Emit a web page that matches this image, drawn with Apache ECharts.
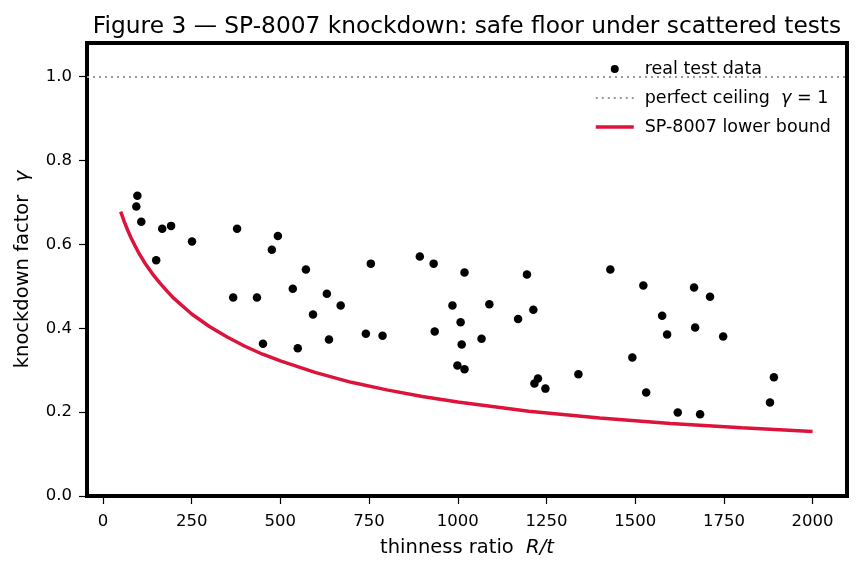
<!DOCTYPE html>
<html>
<head>
<meta charset="utf-8">
<script src="https://cdn.jsdelivr.net/npm/echarts@6/dist/echarts.min.js"></script>
<style>
  html, body { margin: 0; padding: 0; background: #fff; }
  #chart { width: 859px; height: 570px; }
</style>
</head>
<body>
<div id="chart"></div>
<script>
// test points
var thinness = [94, 97, 108, 150, 167, 192, 251, 367, 378, 434, 451, 476, 493, 535, 549, 572, 592, 631, 637, 670,
    741, 755, 788, 893, 932, 935, 985, 999, 1008, 1011, 1019, 1019, 1067, 1089, 1170, 1195, 1213, 1216, 1226, 1247,
    1340, 1430, 1492, 1523, 1531, 1576, 1590, 1620, 1666, 1669, 1683, 1711, 1748, 1880, 1891];
var knockdown = [0.690, 0.716, 0.654, 0.562, 0.637, 0.644, 0.607, 0.473, 0.637, 0.473, 0.363, 0.587, 0.620, 0.494, 0.352, 0.540, 0.433, 0.482, 0.373, 0.454,
    0.387, 0.554, 0.382, 0.571, 0.554, 0.392, 0.454, 0.311, 0.414, 0.361, 0.533, 0.302, 0.375, 0.457, 0.422, 0.528, 0.444, 0.268, 0.280, 0.256,
    0.290, 0.540, 0.330, 0.502, 0.247, 0.430, 0.385, 0.199, 0.497, 0.402, 0.195, 0.475, 0.380, 0.223, 0.283];

// lower bound curve, read at these R/t values
var boundX = [50, 60, 70, 80, 90, 100, 120, 140, 160, 180, 200, 250, 300, 350, 400, 450, 500, 600, 700, 800, 900, 1000, 1200, 1400, 1600, 1800, 2000];
var boundY = [0.678, 0.654, 0.633, 0.614, 0.597, 0.581, 0.553, 0.529, 0.508, 0.489, 0.471, 0.434, 0.404, 0.379, 0.357, 0.338, 0.322, 0.294, 0.271, 0.253, 0.237, 0.224, 0.202, 0.186, 0.173, 0.163, 0.154];

var ceiling = 1;
var xTicks = [0, 250, 500, 750, 1000, 1250, 1500, 1750, 2000];
var yTicks = [0, 0.2, 0.4, 0.6, 0.8, 1.0];

var font = "'DejaVu Sans', sans-serif";

function pairs(xs, ys) {
    var out = [];
    for (var i = 0; i < xs.length; i++) {
        out.push([xs[i], ys[i]]);
    }
    return out;
}

var chart = echarts.init(document.getElementById('chart'));

var option = {
    backgroundColor: '#fff',
    animation: false,
    textStyle: { fontFamily: font },
    title: {
        text: 'Figure 3 — SP-8007 knockdown: safe floor under scattered tests',
        left: 462,
        top: 10,
        textAlign: 'center',
        textStyle: { fontFamily: font, fontSize: 23.3, fontWeight: 'normal', color: '#000' }
    },
    grid: {
        left: 87, right: 12, top: 43, bottom: 74,
        show: true, borderColor: '#000', borderWidth: 4, backgroundColor: 'transparent'
    },
    legend: {
        orient: 'vertical',
        left: 589,
        top: 55,
        itemWidth: 38,
        itemHeight: 8,
        itemGap: 11,
        textStyle: {
            fontFamily: font, fontSize: 17.5, color: '#000', padding: [0, 0, 0, 6],
            rich: { i: { fontStyle: 'italic', fontSize: 17.5, fontFamily: font, color: '#000' } }
        },
        formatter: function (name) {
            if (name === 'perfect ceiling') return 'perfect ceiling  {i|γ} = 1';
            return name;
        },
        data: [
            { name: 'real test data' },
            { name: 'perfect ceiling', itemStyle: { opacity: 0 }, lineStyle: { color: '#999', width: 2, type: [2, 4] } },
            { name: 'SP-8007 lower bound', itemStyle: { opacity: 0 }, lineStyle: { color: '#DC143C', width: 3.5 } }
        ]
    },
    xAxis: {
        type: 'value',
        min: -45,
        max: 2097,
        name: '{n|thinness ratio  }{i|R/t}',
        nameLocation: 'middle',
        nameGap: 42,
        nameTextStyle: {
            rich: {
                n: { fontFamily: font, fontSize: 19.5, color: '#000' },
                i: { fontFamily: font, fontSize: 19.5, fontStyle: 'italic', color: '#000' }
            }
        },
        splitLine: { show: false },
        axisLine: { show: false, onZero: false },
        axisTick: { show: true, customValues: xTicks, length: 8, lineStyle: { color: '#000', width: 1.2 } },
        axisLabel: {
            customValues: xTicks, fontSize: 16.5, color: '#000', fontFamily: font, margin: 17,
            formatter: function (v) { return String(v); }
        }
    },
    yAxis: {
        type: 'value',
        min: 0,
        max: 1.08,
        name: '{n|knockdown factor  }{i|γ}',
        nameLocation: 'middle',
        nameGap: 54,
        nameTextStyle: {
            rich: {
                n: { fontFamily: font, fontSize: 19.5, color: '#000' },
                i: { fontFamily: font, fontSize: 19.5, fontStyle: 'italic', color: '#000' }
            }
        },
        splitLine: { show: false },
        axisLine: { show: false, onZero: false },
        axisTick: { show: true, customValues: yTicks, length: 8, lineStyle: { color: '#000', width: 1.2 } },
        axisLabel: {
            customValues: yTicks, fontSize: 16.5, color: '#000', fontFamily: font, margin: 15,
            formatter: function (v) { return v.toFixed(1); }
        }
    },
    series: [
        {
            name: 'real test data',
            type: 'scatter',
            symbol: 'circle',
            symbolSize: 8.5,
            itemStyle: { color: '#000', opacity: 1 },
            data: pairs(thinness, knockdown),
            z: 4
        },
        {
            name: 'perfect ceiling',
            type: 'line',
            data: [],
            symbol: 'none',
            itemStyle: { color: '#999' },
            lineStyle: { color: '#999', width: 2, type: [2, 4] },
            markLine: {
                silent: true,
                symbol: ['none', 'none'],
                label: { show: false },
                lineStyle: { color: '#999', width: 2, type: [2, 4] },
                data: [{ yAxis: ceiling }]
            }
        },
        {
            name: 'SP-8007 lower bound',
            type: 'line',
            data: pairs(boundX, boundY),
            symbol: 'none',
            itemStyle: { color: '#DC143C' },
            lineStyle: { color: '#DC143C', width: 3.5 },
            z: 3
        }
    ]
};

chart.setOption(option);
</script>
</body>
</html>
